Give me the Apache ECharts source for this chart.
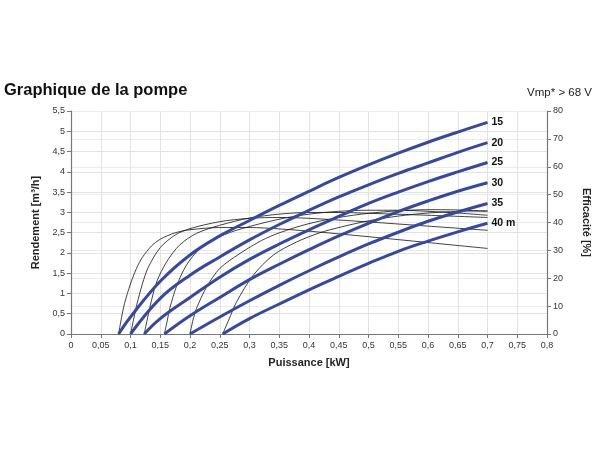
<!DOCTYPE html>
<html>
<head>
<meta charset="utf-8">
<script src="https://cdn.jsdelivr.net/npm/echarts@6/dist/echarts.min.js"></script>
<style>
html,body{margin:0;padding:0;background:#fff;}
#c{width:600px;height:450px;}
</style>
</head>
<body>
<div id="c"></div>
<script>
// ---- Head curves (flow [m³/h] vs power [kW]) ----
const headLabels = ['15', '20', '25', '30', '35', '40 m'];

const flowP15 = [0.08, 0.1, 0.15, 0.2, 0.25, 0.3, 0.35, 0.4, 0.45, 0.5, 0.55, 0.6, 0.65, 0.7];
const flowQ15 = [0, 0.42, 1.3, 1.95, 2.42, 2.8, 3.17, 3.52, 3.86, 4.17, 4.46, 4.73, 4.98, 5.22];

const flowP20 = [0.1, 0.15, 0.2, 0.25, 0.3, 0.35, 0.4, 0.45, 0.5, 0.55, 0.6, 0.65, 0.7];
const flowQ20 = [0, 0.88, 1.45, 1.9, 2.32, 2.7, 3.05, 3.38, 3.68, 3.96, 4.22, 4.48, 4.72];

const flowP25 = [0.123, 0.15, 0.2, 0.25, 0.3, 0.35, 0.4, 0.45, 0.5, 0.55, 0.6, 0.65, 0.7];
const flowQ25 = [0, 0.38, 0.9, 1.4, 1.84, 2.22, 2.57, 2.9, 3.22, 3.5, 3.76, 4.0, 4.23];

const flowP30 = [0.157, 0.2, 0.25, 0.3, 0.35, 0.4, 0.45, 0.5, 0.55, 0.6, 0.65, 0.7];
const flowQ30 = [0, 0.45, 0.9, 1.34, 1.72, 2.08, 2.42, 2.73, 3.02, 3.28, 3.52, 3.73];

const flowP35 = [0.2, 0.25, 0.3, 0.35, 0.4, 0.45, 0.5, 0.55, 0.6, 0.65, 0.7];
const flowQ35 = [0, 0.42, 0.82, 1.2, 1.56, 1.9, 2.22, 2.51, 2.78, 3.01, 3.22];

const flowP40 = [0.255, 0.3, 0.35, 0.4, 0.45, 0.5, 0.55, 0.6, 0.65, 0.7];
const flowQ40 = [0, 0.38, 0.74, 1.09, 1.42, 1.74, 2.04, 2.29, 2.52, 2.73];

// ---- Efficiency curves (% vs power [kW]) ----
const effP15 = [0.08, 0.085, 0.09, 0.1, 0.11, 0.12, 0.135, 0.15, 0.175, 0.2, 0.25, 0.3, 0.35, 0.4, 0.5, 0.6, 0.7];
const effE15 = [0, 6, 11, 18, 23.5, 27.5, 31.5, 34, 36.3, 37.4, 38.2, 38.2, 37.7, 36.9, 34.9, 32.8, 30.7];

const effP20 = [0.1, 0.105, 0.11, 0.12, 0.13, 0.15, 0.175, 0.2, 0.25, 0.3, 0.35, 0.4, 0.5, 0.6, 0.7];
const effE20 = [0, 5, 10, 18, 24, 31, 35.5, 37.8, 40.3, 41.5, 41.8, 41.5, 40.2, 38.7, 37.2];

const effP25 = [0.123, 0.128, 0.133, 0.144, 0.161, 0.183, 0.211, 0.25, 0.3, 0.35, 0.4, 0.45, 0.5, 0.6, 0.7];
const effE25 = [0, 5, 10, 18.7, 26, 32, 36.1, 39, 41.6, 43, 43.6, 43.6, 43.3, 42.6, 41.8];

const effP30 = [0.157, 0.162, 0.166, 0.178, 0.194, 0.217, 0.25, 0.284, 0.35, 0.4, 0.45, 0.5, 0.55, 0.6, 0.65, 0.7];
const effE30 = [0, 5, 9.2, 17.5, 24.7, 30.7, 34.9, 37.6, 41.2, 43, 44, 44.4, 44.4, 44, 43.4, 42.6];

const effP35 = [0.2, 0.205, 0.211, 0.228, 0.25, 0.284, 0.32, 0.35, 0.4, 0.45, 0.5, 0.55, 0.6, 0.65, 0.7];
const effE35 = [0, 5, 9.2, 16.9, 23.5, 28.9, 33.5, 36.3, 39.6, 41.8, 43.3, 44.2, 44.6, 44.5, 44];

const effP40 = [0.255, 0.265, 0.2785, 0.306, 0.34, 0.379, 0.418, 0.452, 0.5, 0.55, 0.6, 0.65, 0.7];
const effE40 = [0, 5, 11.6, 21, 28.3, 33, 36.3, 38.3, 40.6, 42.3, 43.4, 44, 44.2];

// ---- Axis settings ----
const xMin = 0, xMax = 0.8, xStep = 0.05;
const yMin = 0, yMax = 5.5, yStep = 0.5;
const y2Min = 0, y2Max = 80, y2Step = 10;

const flowSets = [
  [flowP15, flowQ15], [flowP20, flowQ20], [flowP25, flowQ25],
  [flowP30, flowQ30], [flowP35, flowQ35], [flowP40, flowQ40]
];
const effSets = [
  [effP15, effE15], [effP20, effE20], [effP25, effE25],
  [effP30, effE30], [effP35, effE35], [effP40, effE40]
];

const pair = (xs, ys) => xs.map((x, i) => [x, ys[i]]);
const fmt = v => String(Number(v.toFixed(2))).replace('.', ',');

const FONT = '"Liberation Sans", Arial, sans-serif';
const BLUE = '#36499a';

const series = [];
effSets.forEach(([xs, ys]) => {
  series.push({
    type: 'line', yAxisIndex: 1, data: pair(xs, ys),
    showSymbol: false, symbol: 'none', smooth: 0.3,
    lineStyle: { color: '#111', width: 0.8 }, z: 2, silent: true
  });
});
flowSets.forEach(([xs, ys], i) => {
  series.push({
    type: 'line', yAxisIndex: 0, data: pair(xs, ys),
    showSymbol: false, symbol: 'none', smooth: 0.4,
    lineStyle: { color: BLUE, width: 3 }, z: 3, silent: true,
    endLabel: {
      show: true, formatter: headLabels[i], distance: 4,
      fontFamily: FONT, fontWeight: 'bold', fontSize: 10.5, color: '#111'
    }
  });
});

const chart = echarts.init(document.getElementById('c'), null, { renderer: 'canvas' });
chart.setOption({
  animation: false,
  backgroundColor: '#fff',
  textStyle: { fontFamily: FONT },
  title: [
    { text: 'Graphique de la pompe', left: 4, top: 82, padding: 0,
      textStyle: { fontFamily: FONT, fontSize: 16.5, fontWeight: 'bold', color: '#111' } },
    { text: 'Vmp* > 68 V', right: 8, top: 87, padding: 0,
      textStyle: { fontFamily: FONT, fontSize: 11.5, fontWeight: 'normal', color: '#222' } }
  ],
  grid: { left: 71, right: 53, top: 111, bottom: 116, containLabel: false },
  xAxis: {
    type: 'value', min: xMin, max: xMax, interval: xStep,
    name: 'Puissance [kW]', nameLocation: 'middle', nameGap: 23,
    nameTextStyle: { fontFamily: FONT, fontSize: 11, fontWeight: 'bold', color: '#222' },
    axisLine: { show: true, lineStyle: { color: '#777', width: 1.2 } },
    axisTick: { show: true, length: 4, lineStyle: { color: '#777' } },
    axisLabel: { formatter: fmt, fontSize: 9, color: '#333', margin: 7 },
    splitLine: { show: true, lineStyle: { color: '#e2e2e2', width: 1 } }
  },
  yAxis: [
    {
      type: 'value', min: yMin, max: yMax, interval: yStep, position: 'left',
      name: 'Rendement [m³/h]', nameLocation: 'middle', nameGap: 28, nameRotate: 90,
      nameTextStyle: { fontFamily: FONT, fontSize: 11, fontWeight: 'bold', color: '#222' },
      axisLine: { show: true, lineStyle: { color: '#777', width: 1.2 } },
      axisTick: { show: true, length: 4, lineStyle: { color: '#777' } },
      axisLabel: { formatter: fmt, fontSize: 9, color: '#333', margin: 6 },
      splitLine: { show: true, lineStyle: { color: '#e2e2e2', width: 1 } }
    },
    {
      type: 'value', min: y2Min, max: y2Max, interval: y2Step, position: 'right',
      name: 'Efficacité [%]', nameLocation: 'middle', nameGap: 34, nameRotate: -90,
      nameTextStyle: { fontFamily: FONT, fontSize: 11, fontWeight: 'bold', color: '#222' },
      axisLine: { show: true, lineStyle: { color: '#777', width: 1.2 } },
      axisTick: { show: true, length: 4, lineStyle: { color: '#777' } },
      axisLabel: { fontSize: 9, color: '#333', margin: 6 },
      splitLine: { show: true, lineStyle: { color: '#ececec', width: 1 } }
    }
  ],
  series: series
});
</script>
</body>
</html>
